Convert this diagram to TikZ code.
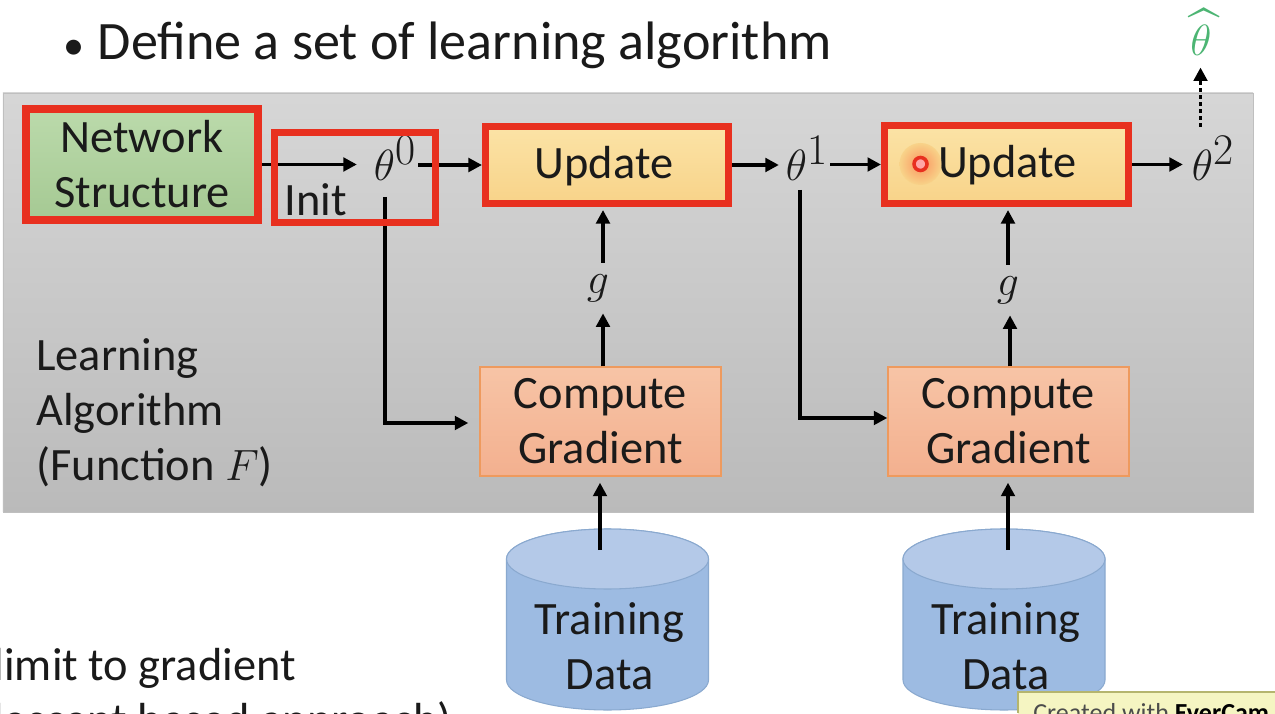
\documentclass[tikz,border=0pt]{standalone}
\usepackage{amsmath,amssymb}
\usepackage{fontspec}
\setmainfont{Carlito}
\usetikzlibrary{arrows.meta}

\definecolor{inkblack}{HTML}{1A1A1A}
\definecolor{markred}{HTML}{E8301F}
\definecolor{updtop}{HTML}{FBE3A6}
\definecolor{updbottom}{HTML}{F8D389}
\definecolor{gradtop}{HTML}{F7C4A6}
\definecolor{gradbottom}{HTML}{F3B08F}
\definecolor{gradedge}{HTML}{EE9A5E}
\definecolor{datatop}{HTML}{B4C9E8}
\definecolor{databody}{HTML}{9DBBE2}
\definecolor{dataedge}{HTML}{8AA9CF}
\definecolor{nettop}{HTML}{BBDAAB}
\definecolor{netbottom}{HTML}{A5C993}
\definecolor{hatgreen}{HTML}{4CB573}
\definecolor{tagyellow}{HTML}{F5F5C2}
\definecolor{tagedge}{HTML}{B5B56E}
\tikzset{
  boxtext/.style={text=inkblack,font=\fontsize{26.4}{31.3}\selectfont,align=center,inner sep=0pt},
  mathtext/.style={text=inkblack,font=\fontsize{36}{42}\selectfont,inner sep=1pt},
  netbox/.style={boxtext,draw=markred,line width=4.5pt,top color=nettop,bottom color=netbottom,minimum width=4.64cm,minimum height=2.22cm},
  updatebox/.style={boxtext,draw=markred,line width=4pt,top color=updtop,bottom color=updbottom,text height=0.72cm,text depth=0.19cm},
  gradbox/.style={boxtext,draw=gradedge,line width=0.8pt,top color=gradtop,bottom color=gradbottom,minimum width=4.82cm,minimum height=2.18cm},
  flow/.style={-{Triangle[length=0.27cm,width=0.27cm]},line width=2.2pt,black}
}

\begin{document}
\begin{tikzpicture}
\clip (0,0) rectangle (25.5,14.26);
\fill [white] (0,0) rectangle (25.5,14.26);

% gray panel
\shade [top color=black!16,bottom color=black!27] (0.06,4.02) rectangle (25.06,12.40);
\draw [black!25,line width=0.5pt] (0.06,4.02) rectangle (25.06,12.40);

% heading and text
\node [text=inkblack,font=\fontsize{30.8}{36}\selectfont,anchor=base west,inner sep=0pt] (title) at (1.26,13.06) {{\fontsize{24}{24}\selectfont\textbullet}\hspace{0.25em}Define a set of learning algorithm};
\node [boxtext,align=left,anchor=north west] (algo) at (0.72,7.50) {Learning\\Algorithm\\(Function $F$)};
\node [boxtext,anchor=base east] (limit) at (5.92,0.66) {limit to gradient};
\node [boxtext,anchor=base east] (descent) at (9.04,-0.44) {descent based approach)};

% boxes
\node [netbox] (net) at (2.84,10.97) {Network\\Structure};
\node [updatebox,minimum width=4.86cm,minimum height=1.54cm] (upd1) at (12.14,10.96) {\hspace{-0.12cm}Update};
\node [updatebox,minimum width=4.88cm,minimum height=1.56cm] (upd2) at (20.13,10.97) {\hspace{0.03cm}Update};
\node [gradbox] (grad1) at (12.01,5.83) {Compute\\Gradient};
\node [gradbox] (grad2) at (20.17,5.83) {Compute\\Gradient};

% the two data stores
\foreach \cx/\name in {12.15/data1,20.08/data2} {
  \draw [fill=databody,draw=dataedge,line width=0.6pt] (\cx-2.02,3.08) -- (\cx-2.02,0.66) arc (180:360:2.02 and 0.60) -- (\cx+2.02,3.08) arc (0:180:2.02 and 0.60) -- cycle;
  \draw [fill=datatop,draw=dataedge,line width=0.6pt] (\cx,3.08) ellipse (2.02 and 0.60);
}
\coordinate (data1) at (12.00,3.26);
\coordinate (data2) at (20.16,3.26);
\node [boxtext] (text1) at (12.19,1.33) {Training\\Data};
\node [boxtext] (text2) at (20.12,1.33) {Training\\Data};

% parameters
\node [mathtext] (theta0) at (7.90,11.10) {$\theta^{0}$};
\node [mathtext] (theta1) at (16.14,11.10) {$\theta^{1}$};
\node [mathtext] (theta2) at (24.26,11.10) {$\theta^{2}$};
\node [mathtext,text=hatgreen,font=\fontsize{32}{38}\selectfont] (thetahat) at (24.02,13.62) {$\widehat{\theta}$};
\node [mathtext,minimum height=1.0cm] (g1) at (11.96,8.50) {$g$};
\node [mathtext,minimum height=1.0cm] (g2) at (20.16,8.46) {$g$};
\node [boxtext,anchor=base west] (init) at (5.68,9.94) {Init};

% free ends of the lines
\coordinate (start0) at (7.70,10.32);
\coordinate (turn0) at (7.70,5.80);
\coordinate (start1) at (16.00,10.46);
\coordinate (turn1) at (16.00,5.90);
\coordinate (dotend) at (24.01,11.72);
\coordinate (dotmid) at (24.01,12.58);

\draw [flow] (net.east) -- ([xshift=-0.30cm]net.east -| theta0.west);
\draw [flow] (theta0.east |- upd1.west) -- (upd1.west);
\draw [flow] (upd1.east) -- ([xshift=-0.10cm]upd1.east -| theta1.west);
\draw [flow] (theta1.east |- upd2.west) -- (upd2.west);
\draw [flow] (upd2.east) -- ([xshift=-0.14cm]upd2.east -| theta2.west);
\draw [line width=2.2pt,dash pattern=on 2.2pt off 1.8pt] (dotend) -- (dotmid);
\draw [flow] (dotmid) -- ([yshift=-0.20cm]thetahat.south -| dotend);

\draw [flow] ([xshift=0.10cm]grad1.north -| g1) -- ([xshift=0.10cm]g1.south);
\draw [flow] ([xshift=0.10cm]g1.north) -- ([xshift=0.10cm,yshift=-0.06cm]g1.north |- upd1.south);
\draw [flow] ([xshift=0.04cm]grad2.north -| g2) -- ([xshift=0.04cm]g2.south);
\draw [flow] (g2.north) -- ([yshift=-0.06cm]g2.north |- upd2.south);

\draw [flow] (start0) -- (turn0) -- ([xshift=-0.22cm]turn0 -| grad1.west);
\draw [flow] (start1) -- (turn1) -- (turn1 -| grad2.west);
\draw [flow] (data1) -- ([yshift=-0.12cm]data1 |- grad1.south);
\draw [flow] (data2) -- ([yshift=-0.12cm]data2 |- grad2.south);

% init mark goes over the lines
\node [draw=markred,line width=4pt,minimum width=3.22cm,minimum height=1.80cm] (initbox) at (7.10,10.71) {};

% pointer
\shade [inner color=red!30!updbottom,outer color=updbottom] (18.41,10.98) circle (0.42);
\node [circle,draw=markred,fill=red!35!white,line width=2pt,minimum size=0.26cm,inner sep=0pt] (pointer) at (18.41,10.98) {};

% recorder tag
\fill [tagyellow] (20.36,-0.1) rectangle (25.6,0.42);
\draw [tagedge,line width=0.6pt] (20.36,0) -- (20.36,0.42) -- (25.6,0.42);
\node [font=\fontsize{14.8}{18}\selectfont,text=black!70,anchor=base west,inner sep=0pt] (tag) at (20.66,-0.16) {Created with \textbf{\textcolor{black}{EverCam}}};
\end{tikzpicture}
\end{document}
